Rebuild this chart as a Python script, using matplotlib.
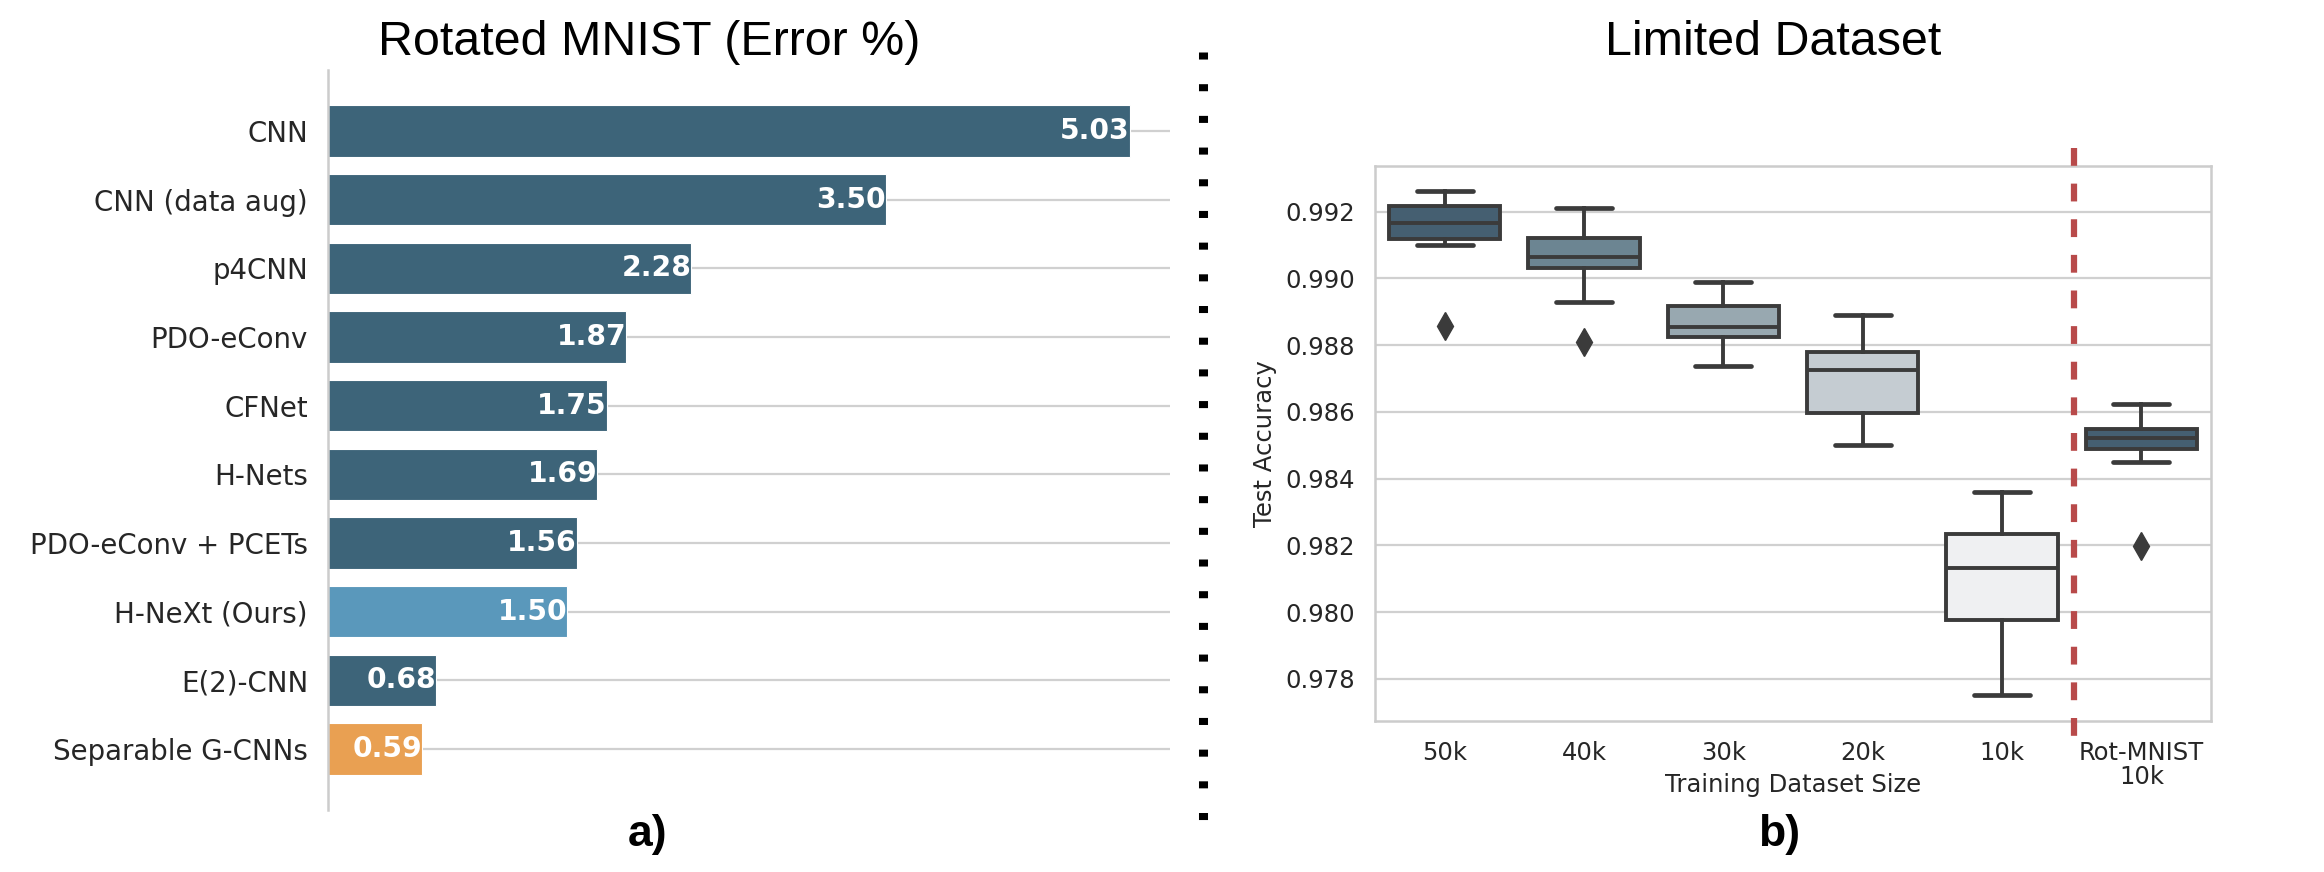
import matplotlib

matplotlib.use("Agg")
import matplotlib.pyplot as plt
from matplotlib.lines import Line2D

# ---- data -----------------------------------------------------------------
# a) Rotated MNIST test error (%)
models = [
    "CNN", "CNN (data aug)", "p4CNN", "PDO-eConv", "CFNet", "H-Nets",
    "PDO-eConv + PCETs", "H-NeXt (Ours)", "E(2)-CNN", "Separable G-CNNs",
]
errors = [5.03, 3.50, 2.28, 1.87, 1.75, 1.69, 1.56, 1.50, 0.68, 0.59]
bar_colors = ["#3d6479"] * 7 + ["#5a98bb", "#3d6479", "#e9a052"]

# b) test accuracy vs training set size (box statistics read off the plot)
sizes = ["50k", "40k", "30k", "20k", "10k", "Rot-MNIST\n10k"]
whisk_hi = [0.99261, 0.99210, 0.98990, 0.98891, 0.98360, 0.98625]
q3 = [0.99218, 0.99120, 0.98917, 0.98780, 0.98235, 0.98548]
median = [0.99166, 0.99063, 0.98856, 0.98727, 0.98132, 0.98522]
q1 = [0.99117, 0.99032, 0.98824, 0.98598, 0.97978, 0.98490]
whisk_lo = [0.99099, 0.98930, 0.98739, 0.98500, 0.97751, 0.98450]
outliers = [[0.98858], [0.98810], [], [], [], [0.98199]]
box_colors = ["#455f71", "#6c8592", "#98a8b0", "#c5ccd2", "#eff0f2", "#455f71"]
acc_ticks = [0.978, 0.980, 0.982, 0.984, 0.986, 0.988, 0.990, 0.992]
separator_x = 4.52

W, H = 2324, 872
GRID = "#d0d0d0"
SPINE = "#cccccc"
TEXT = "#262626"
LINE = "#3b3b3b"

fig = plt.figure(figsize=(W / 100, H / 100), dpi=100)

# ---- a) horizontal bars ---------------------------------------------------
ax1 = fig.add_axes([328 / W, 1 - 810 / H, 841.5 / W, 740 / H])
ypos = list(range(len(models)))
ax1.barh(ypos, errors, height=0.75, color=bar_colors, edgecolor="white",
         linewidth=0.8, zorder=2)
for y, v in zip(ypos, errors):
    ax1.text(v, y, f"{v:.2f}", ha="right", va="center", color="white",
             fontsize=20.3, fontweight="bold", zorder=3)
ax1.set_xlim(0, 5.28)
ax1.set_ylim(len(models) - 1 + 0.89, -0.89)
ax1.set_yticks(ypos)
ax1.set_yticklabels(models, fontsize=19.9, color=TEXT)
ax1.set_xticks([])
ax1.tick_params(axis="y", length=0, pad=14.4)
ax1.yaxis.grid(True, color=GRID, linewidth=1.6, zorder=0)
ax1.set_axisbelow(True)
for side in ("top", "right", "bottom"):
    ax1.spines[side].set_visible(False)
ax1.spines["left"].set_color(SPINE)
ax1.spines["left"].set_linewidth(1.8)

# ---- b) box plots ---------------------------------------------------------
ax2 = fig.add_axes([1375 / W, 1 - 721 / H, 836 / W, 555 / H])
stats = []
for i in range(len(sizes)):
    stats.append(dict(med=median[i], q1=q1[i], q3=q3[i], whislo=whisk_lo[i],
                      whishi=whisk_hi[i], fliers=outliers[i]))
line_kw = dict(color=LINE, linewidth=2.8)
bp = ax2.bxp(
    stats, positions=range(len(sizes)), widths=0.8, capwidths=0.4,
    patch_artist=True, showfliers=True,
    boxprops=dict(edgecolor=LINE, linewidth=2.8),
    medianprops=line_kw, whiskerprops=line_kw,
    capprops=dict(color=LINE, linewidth=3.4, solid_capstyle="round"),
    flierprops=dict(marker="d", markerfacecolor=LINE, markeredgecolor=LINE,
                    markersize=14),
)
for patch, c in zip(bp["boxes"], box_colors):
    patch.set_facecolor(c)
for artist in bp["boxes"] + bp["medians"] + bp["whiskers"] + bp["caps"] + bp["fliers"]:
    artist.set_zorder(3)

ax2.set_xlim(-0.5, len(sizes) - 0.5)
ax2.set_ylim(0.97674, 0.99337)
ax2.set_yticks(acc_ticks)
ax2.set_yticklabels([f"{t:.3f}" for t in acc_ticks], fontsize=17.5, color=TEXT)
ax2.set_xticks(range(len(sizes)))
ax2.set_xticklabels(sizes, fontsize=17.5, color=TEXT, linespacing=1.0)
ax2.tick_params(length=0, pad=14.4)
ax2.yaxis.grid(True, color=GRID, linewidth=1.6, zorder=0)
ax2.set_axisbelow(True)
for s in ax2.spines.values():
    s.set_color(SPINE)
    s.set_linewidth(1.8)
ax2.set_xlabel("Training Dataset Size", fontsize=17.5, color=TEXT)
ax2.xaxis.set_label_coords(0.5, -0.093)
ax2.set_ylabel("Test Accuracy", fontsize=17.5, color=TEXT)
ax2.yaxis.set_label_coords(-0.117, 0.5)

# red dashed separator between the MNIST sizes and Rot-MNIST
ax2.plot([separator_x, separator_x], [0.9939, 0.9761], color="#b84a4a",
         linewidth=4.5, linestyle=(0, (2.85, 2.85)), clip_on=False, zorder=4)

# ---- figure-level text and dotted divider -----------------------------------
fig.text(649 / W, 1 - 55 / H, "Rotated MNIST (Error %)", ha="center",
         va="baseline", fontsize=34.8, family="Liberation Sans", color="black")
fig.text(1773 / W, 1 - 55 / H, "Limited Dataset", ha="center",
         va="baseline", fontsize=34.8, family="Liberation Sans", color="black")
fig.text(648 / W, 1 - 846 / H, "a)", ha="center", va="baseline", fontsize=32,
         fontweight="bold", family="Liberation Sans", color="black")
fig.text(1779 / W, 1 - 846 / H, "b)", ha="center", va="baseline", fontsize=32,
         fontweight="bold", family="Liberation Sans", color="black")

fig.add_artist(Line2D([1202.5 / W, 1202.5 / W], [1 - 52 / H, 1 - 830 / H],
                      transform=fig.transFigure, color="black", linewidth=6.5,
                      linestyle=(0, (0.78, 2.73)), solid_capstyle="butt"))

fig.savefig("out.png", dpi=100, facecolor="white")
